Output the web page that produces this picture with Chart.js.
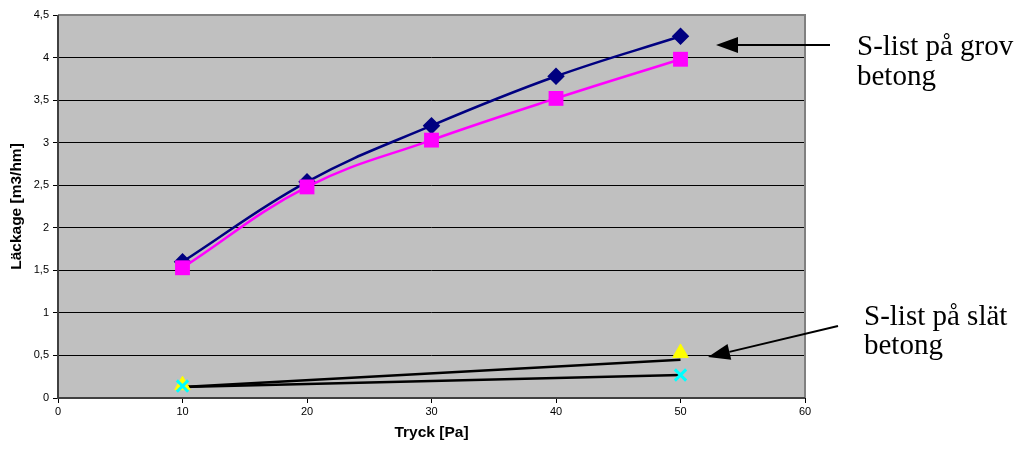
<!DOCTYPE html>
<html>
<head>
<meta charset="utf-8">
<script src="https://cdn.jsdelivr.net/npm/chart.js@4/dist/chart.umd.min.js"></script>
<style>
  html, body { margin: 0; padding: 0; background: #fff; }
  #wrap { width: 1018px; height: 450px; position: relative; }
</style>
</head>
<body>
<div id="wrap"><canvas id="leak-chart" width="1018" height="450"></canvas></div>
<script>
// data
const pressures = [10, 20, 30, 40, 50];
const grovUpper = [1.60, 2.54, 3.20, 3.78, 4.25];
const grovLower = [1.53, 2.48, 3.03, 3.52, 3.98];
const slatX = [10, 50];
const slatTriangle = [0.15, 0.53];
const slatCross = [0.14, 0.27];
const slatLineA = [0.13, 0.45];
const slatLineB = [0.13, 0.27];

function toPoints(xs, ys) {
    return xs.map((x, i) => ({ x: x, y: ys[i] }));
}

// gray plot background + border
const plotBackground = {
    id: 'plotBackground',
    beforeDraw(chart) {
        const { ctx, chartArea: a } = chart;
        ctx.save();
        ctx.fillStyle = '#c0c0c0';
        ctx.fillRect(a.left, a.top, a.right - a.left, a.bottom - a.top);
        ctx.restore();
    },
    afterDatasetsDraw(chart) {
        const { ctx, chartArea: a } = chart;
        ctx.save();
        ctx.strokeStyle = '#808080';
        ctx.lineWidth = 2;
        ctx.beginPath();
        ctx.moveTo(a.left, a.top);
        ctx.lineTo(a.right, a.top);
        ctx.lineTo(a.right, a.bottom);
        ctx.stroke();
        ctx.strokeStyle = '#404040';
        ctx.beginPath();
        ctx.moveTo(a.left, a.top);
        ctx.lineTo(a.left, a.bottom);
        ctx.lineTo(a.right, a.bottom);
        ctx.stroke();
        ctx.restore();
    }
};

function arrow(ctx, x1, y1, x2, y2) {
    const ang = Math.atan2(y2 - y1, x2 - x1);
    const len = 22, half = 8;
    const bx = x2 - Math.cos(ang) * len, by = y2 - Math.sin(ang) * len;
    ctx.beginPath();
    ctx.moveTo(x1, y1);
    ctx.lineTo(bx, by);
    ctx.stroke();
    ctx.beginPath();
    ctx.moveTo(x2, y2);
    ctx.lineTo(bx - Math.sin(ang) * half, by + Math.cos(ang) * half);
    ctx.lineTo(bx + Math.sin(ang) * half, by - Math.cos(ang) * half);
    ctx.closePath();
    ctx.fill();
}

// the text notes and arrows on the right
const notes = {
    id: 'notes',
    afterDraw(chart) {
        const ctx = chart.ctx;
        ctx.save();
        ctx.strokeStyle = '#000';
        ctx.fillStyle = '#000';
        ctx.lineWidth = 2;
        arrow(ctx, 830, 45, 716, 45);
        arrow(ctx, 838, 326, 708, 357);
        ctx.font = '29px "Liberation Serif", "Times New Roman", serif';
        ctx.textBaseline = 'alphabetic';
        ctx.fillText('S-list på grov', 857, 55);
        ctx.fillText('betong', 857, 85);
        ctx.fillText('S-list på slät', 864, 325);
        ctx.fillText('betong', 864, 354);
        ctx.restore();
    }
};

const commaFmt = v => String(v).replace('.', ',');

new Chart(document.getElementById('leak-chart'), {
    type: 'scatter',
    data: {
        datasets: [
            {
                data: toPoints(slatX, slatLineA),
                showLine: true, borderColor: '#000', borderWidth: 2.5,
                pointRadius: 0, order: 5
            },
            {
                data: toPoints(slatX, slatLineB),
                showLine: true, borderColor: '#000', borderWidth: 2.5,
                pointRadius: 0, order: 5
            },
            {
                data: toPoints(pressures, grovUpper),
                showLine: true, borderColor: '#000080', borderWidth: 2.5,
                tension: 0.4,
                pointStyle: 'rectRot', pointRadius: 7,
                pointBackgroundColor: '#000080', pointBorderColor: '#000080', order: 2
            },
            {
                data: toPoints(pressures, grovLower),
                showLine: true, borderColor: '#ff00ff', borderWidth: 2.5,
                tension: 0.4,
                pointStyle: 'rect', pointRadius: 10.5,
                pointBackgroundColor: '#ff00ff', pointBorderColor: '#ff00ff', pointBorderWidth: 0, order: 1
            },
            {
                data: toPoints(slatX, slatTriangle),
                showLine: false,
                pointStyle: 'triangle', pointRadius: 9,
                pointBackgroundColor: '#ffff00', pointBorderColor: '#ffff00', order: 4
            },
            {
                data: toPoints(slatX, slatCross),
                showLine: false,
                pointStyle: 'crossRot', pointRadius: 8, pointBorderWidth: 3,
                pointBorderColor: '#00ffff', order: 3
            }
        ]
    },
    options: {
        responsive: false,
        animation: false,
        events: [],
        layout: { padding: { left: 0, right: 213, top: 15, bottom: 0 } },
        plugins: {
            legend: { display: false },
            tooltip: { enabled: false }
        },
        scales: {
            x: {
                type: 'linear', min: 0, max: 60,
                afterFit(scale) { scale.height = 52; },
                ticks: {
                    stepSize: 10, color: '#000', padding: 2,
                    font: { family: 'Liberation Sans, Arial', size: 11 }
                },
                grid: { drawOnChartArea: false, color: '#000', tickLength: 5 },
                border: { display: false },
                title: {
                    display: true, text: 'Tryck [Pa]', color: '#000',
                    font: { family: 'Liberation Sans, Arial', size: 15.5, weight: 'bold' },
                    padding: { top: 0, bottom: 8 }
                }
            },
            y: {
                min: 0, max: 4.5,
                afterFit(scale) { scale.width = 58; },
                ticks: {
                    stepSize: 0.5, color: '#000', padding: 4,
                    font: { family: 'Liberation Sans, Arial', size: 11 },
                    callback: v => commaFmt(v)
                },
                grid: { color: '#000', lineWidth: 1, tickLength: 5 },
                border: { display: false },
                title: {
                    display: true, text: 'Läckage [m3/hm]', color: '#000',
                    font: { family: 'Liberation Sans, Arial', size: 15.5, weight: 'bold' },
                    padding: { top: 7, bottom: 0 }
                }
            }
        }
    },
    plugins: [plotBackground, notes]
});
</script>
</body>
</html>
